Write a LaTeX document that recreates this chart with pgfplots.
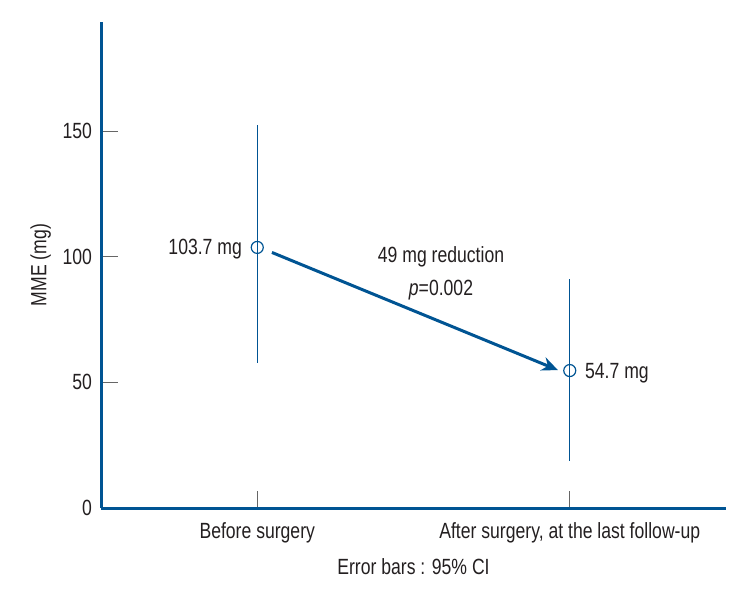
\documentclass[border=0pt]{standalone}
\usepackage{fontspec}
\setmainfont{Liberation Sans}[FakeStretch=0.8]
\usepackage{pgfplots}
\pgfplotsset{compat=1.18}
\usetikzlibrary{arrows.meta}
\definecolor{axblue}{RGB}{0,84,147}
\definecolor{txt}{RGB}{35,31,32}
\begin{document}
\begin{tikzpicture}
\begin{axis}[
  scale only axis,
  width=312.5pt, height=243pt,
  xmin=0.5, xmax=2.5, ymin=0, ymax=193.4,
  axis lines=left,
  axis line style={axblue, line width=1.5pt, -},
  xtick={1,2},
  xticklabels={Before surgery, {After surgery, at the last follow-up}},
  ytick={0,50,100,150},
  tick style={gray!80!black, line width=0.5pt},
  major tick length=8.5pt,
  tick align=inside,
  tick label style={font=\fontsize{11}{13}\selectfont, text=txt},
  /pgf/number format/assume math mode=true,
  yticklabel style={xshift=-1pt},
  xticklabel style={yshift=-3.5pt},
  xlabel={Error bars : 95\% CI},
  ylabel={MME (mg)},
  label style={font=\fontsize{11}{13}\selectfont, text=txt},
  xlabel style={yshift=-1pt},
  ylabel style={yshift=-1pt},
  clip=false,
]
% error bars
\addplot[axblue, line width=0.5pt] coordinates {(1,57.8) (1,152.4)};
\addplot[axblue, line width=0.5pt] coordinates {(2,18.8) (2,91.1)};
% means
\addplot[only marks, mark=o, mark size=3pt, mark options={axblue, line width=0.6pt, fill=white}] coordinates {(1,103.7) (2,54.7)};
% arrow
\addplot[axblue, line width=1.5pt, -{Stealth[length=8pt, width=7pt]}] coordinates {(1.047,101.7) (1.962,54.9)};
% labels
\node[anchor=east, inner sep=0pt, text=txt, font=\fontsize{11}{13}\selectfont] at (axis cs:0.952,103.2) {103.7 mg};
\node[anchor=west, inner sep=0pt, text=txt, font=\fontsize{11}{13}\selectfont] at (axis cs:2.048,53.6) {54.7 mg};
\node[text=txt, font=\fontsize{11}{13}\selectfont] at (axis cs:1.588,99.8) {49 mg reduction};
\node[text=txt, font=\fontsize{11}{13}\selectfont] at (axis cs:1.588,86.6) {\textit{p}=0.002};
\coordinate (bbA) at (rel axis cs:-0.1616,-0.1749);
\coordinate (bbB) at (rel axis cs:1.0432,1.0453);
\end{axis}
\path (bbA) rectangle (bbB);
\end{tikzpicture}
\end{document}
